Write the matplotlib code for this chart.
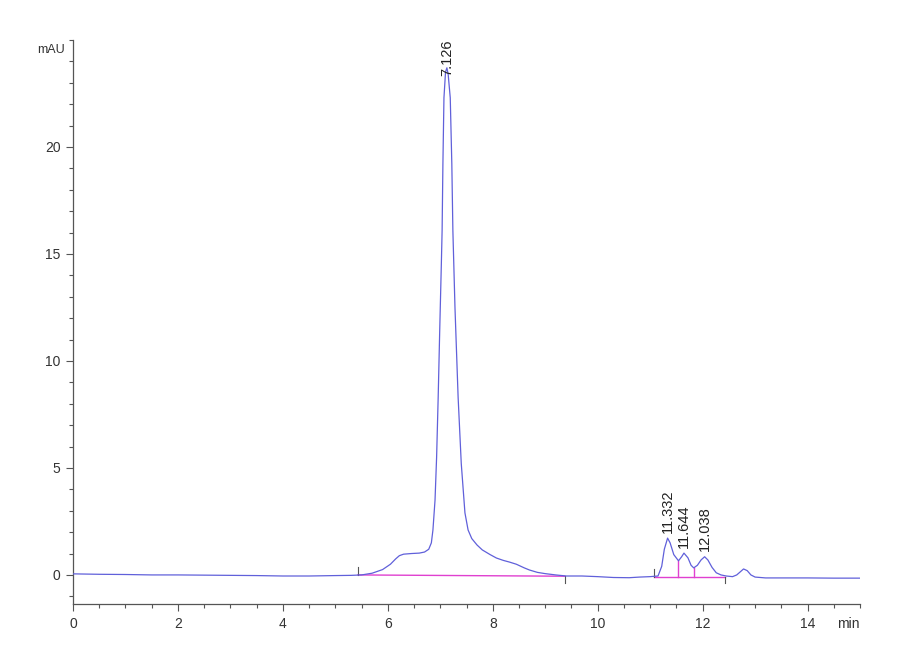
import matplotlib
matplotlib.use('Agg')
import matplotlib.pyplot as plt
from matplotlib.ticker import MultipleLocator, FixedLocator

# chromatogram trace (time in min, signal in mAU)
t = [0.0, 0.5, 1.0, 1.5, 2.0, 2.5, 3.0, 3.5, 4.0, 4.5, 5.0, 5.3, 5.5, 5.7, 5.9,
     6.05, 6.15, 6.22, 6.3, 6.45, 6.6, 6.7, 6.78, 6.83, 6.86, 6.9, 6.93, 6.96, 6.99,
     7.02, 7.035, 7.05, 7.07, 7.1, 7.126, 7.15, 7.19, 7.22, 7.24, 7.28, 7.34, 7.4,
     7.47, 7.53, 7.6, 7.7, 7.8, 7.95, 8.07, 8.2, 8.32, 8.45, 8.6, 8.7, 8.85, 9.0,
     9.2, 9.4, 9.7, 10.0, 10.3, 10.6, 10.8, 11.0, 11.15, 11.22, 11.27, 11.332, 11.38,
     11.45, 11.54, 11.6, 11.644, 11.72, 11.78, 11.83, 11.9, 11.97, 12.038, 12.1,
     12.18, 12.26, 12.35, 12.45, 12.57, 12.65, 12.72, 12.78, 12.85, 12.92, 13.0,
     13.2, 13.6, 14.0, 14.5, 15.0]
mau = [0.05, 0.03, 0.02, 0.0, 0.0, -0.01, -0.02, -0.03, -0.05, -0.05, -0.03, -0.02,
       0.0, 0.08, 0.25, 0.5, 0.75, 0.9, 0.97, 1.0, 1.02, 1.07, 1.2, 1.5, 2.1, 3.5,
       5.5, 8.3, 11.5, 14.5, 16.1, 19.2, 22.3, 23.5, 23.7, 23.4, 22.3, 19.2, 16.1,
       12.5, 8.3, 5.2, 2.9, 2.1, 1.7, 1.4, 1.17, 0.95, 0.79, 0.68, 0.6, 0.5, 0.33,
       0.23, 0.12, 0.06, 0.0, -0.05, -0.05, -0.08, -0.12, -0.13, -0.1, -0.08, -0.05,
       0.4, 1.2, 1.72, 1.5, 0.95, 0.66, 0.85, 1.02, 0.8, 0.45, 0.33, 0.45, 0.7, 0.85,
       0.7, 0.35, 0.1, 0.0, -0.05, -0.08, 0.0, 0.15, 0.28, 0.2, 0.0, -0.1, -0.14,
       -0.14, -0.14, -0.15, -0.15]

# integration baselines (start/end time and level)
bl_t = [[5.43, 9.37], [11.07, 12.42]]
bl_y = [[0.0, -0.06], [-0.08, -0.08]]
# drop lines between the small peaks
drop_t = [11.54, 11.83]
drop_y = [0.66, 0.33]

# labelled peaks
peak_rt = [7.126, 11.332, 11.644, 12.038]
peak_h = [23.7, 1.72, 1.02, 0.85]
peak_lbl = ['7.126', '11.332', '11.644', '12.038']

y_major = [0, 5, 10, 15, 20]

plt.rcParams['font.family'] = ['Liberation Sans', 'DejaVu Sans']

fig = plt.figure(figsize=(9, 6.6), dpi=100)
ax = fig.add_axes([0.0811, 0.0848, 0.8745, 0.8546])

ax.plot(t, mau, color='#6060da', lw=0.9, zorder=3)

for xs, ys in zip(bl_t, bl_y):
    ax.plot(xs, ys, color='#e040d0', lw=1.0, zorder=2)
    # start / end markers of the integration
    ax.plot([xs[0], xs[0]], [ys[0], ys[0] + 0.35], color='#555555', lw=0.8)
    ax.plot([xs[1], xs[1]], [ys[1], ys[1] - 0.3], color='#555555', lw=0.8)

for x, y in zip(drop_t, drop_y):
    ax.plot([x, x], [-0.08, y], color='#e040d0', lw=1.0, zorder=2)

ymax = 25.0
for rt, h, lbl in zip(peak_rt, peak_h, peak_lbl):
    if h + 2.5 > ymax:
        ax.text(rt, ymax, lbl, rotation=90, ha='center', va='top',
                fontsize=10.5, color='#222222')
    else:
        ax.annotate(lbl, (rt, h), xytext=(0, 4), textcoords='offset points',
                    rotation=90, ha='center', va='bottom', fontsize=10.5,
                    color='#222222')

ax.set_xlim(0, 15)
ax.set_ylim(-1.36, ymax)
ax.xaxis.set_major_locator(MultipleLocator(2))
ax.xaxis.set_minor_locator(MultipleLocator(0.5))
ax.yaxis.set_major_locator(FixedLocator(y_major))
ax.yaxis.set_minor_locator(MultipleLocator(1))

for s in ['top', 'right']:
    ax.spines[s].set_visible(False)
for s in ['left', 'bottom']:
    ax.spines[s].set_color('#555555')
    ax.spines[s].set_linewidth(0.9)

ax.tick_params(which='major', length=5, width=0.8, color='#555555',
               labelsize=10, labelcolor='#333333', pad=4)
ax.tick_params(which='minor', length=3, width=0.8, color='#555555')

ax.text(-0.15, 24.55, 'mAU', ha='right', va='center', fontsize=9, color='#333333')
ax.text(15.0, -2.3, 'min', ha='right', va='center', fontsize=10, color='#333333')

fig.savefig('out.png', dpi=100)
